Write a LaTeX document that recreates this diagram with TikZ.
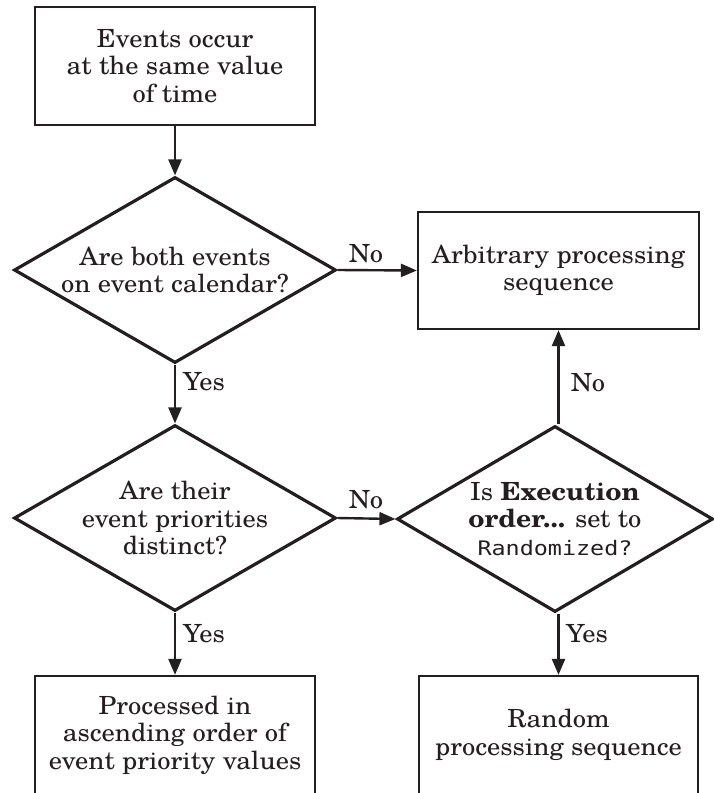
\documentclass[tikz,border=0pt]{standalone}
\usepackage{fontspec}
\setmainfont[FakeStretch=1.06]{TeX Gyre Schola}
\setmonofont[FakeStretch=1.17]{DejaVu Sans Mono}
\usetikzlibrary{shapes.geometric,arrows.meta}
\definecolor{ink}{HTML}{231F20}
\tikzset{
  procbox/.style={draw=ink, line width=2.3pt, minimum width=280pt, minimum height=118pt, inner sep=0pt, align=center, text=ink, font=\fontsize{25}{27.5}\selectfont},
  decision/.style={draw=ink, line width=3.2pt, shape=diamond, aspect=1.74, minimum width=322pt, minimum height=186pt, inner sep=0pt, align=center, text=ink, font=\fontsize{25}{27.5}\selectfont},
  flow/.style={draw=ink, line width=2.4pt, -{Triangle[length=16pt,width=13pt]}},
  lbl/.style={text=ink, font=\fontsize{25}{27}\selectfont, inner sep=0pt}
}
\begin{document}
\begin{tikzpicture}[x=1pt,y=-1pt]
\useasboundingbox (0,0) rectangle (713,793);
\node[procbox] (start) at (175,66) {Events occur\\at the same value\\of time};
\node[decision] (d1) at (175,270) {Are both events\\on event calendar?};
\node[procbox, minimum width=281pt, minimum height=117pt] (arb) at (558.5,270.5) {Arbitrary processing\\sequence};
\node[decision] (d2) at (175,518) {Are their\\event priorities\\distinct?};
\node[decision, minimum width=316pt] (d3) at (555,519) {Is \textbf{Execution}\\\textbf{order...} set to\\{\ttfamily\fontsize{20}{27.5}\selectfont Randomized?}};
\node[procbox] (asc) at (175,735) {Processed in\\ascending order of\\event priority values};
\node[procbox, minimum width=279pt] (rnd) at (558.5,735) {Random\\processing sequence};

\draw[flow] (start) -- (d1);
\draw[flow] (d1.east) -- (arb.west);
\draw[flow] (d1.south) -- (d2.north);
\draw[flow] (d2.east) -- (d3.west);
\draw[flow] (d2.south) -- (asc.north);
\draw[flow] (d3.south -| rnd.north) -- (rnd.north);
\draw[flow] (d3.north -| arb.south) -- (arb.south);

\node[lbl] (no1) at (366,254) {No};
\node[lbl] (yes1) at (204,382) {Yes};
\node[lbl] (no2) at (588,383) {No};
\node[lbl] (no3) at (366,500) {No};
\node[lbl] (yes2) at (204,634) {Yes};
\node[lbl] (yes3) at (587,634) {Yes};
\end{tikzpicture}
\end{document}
